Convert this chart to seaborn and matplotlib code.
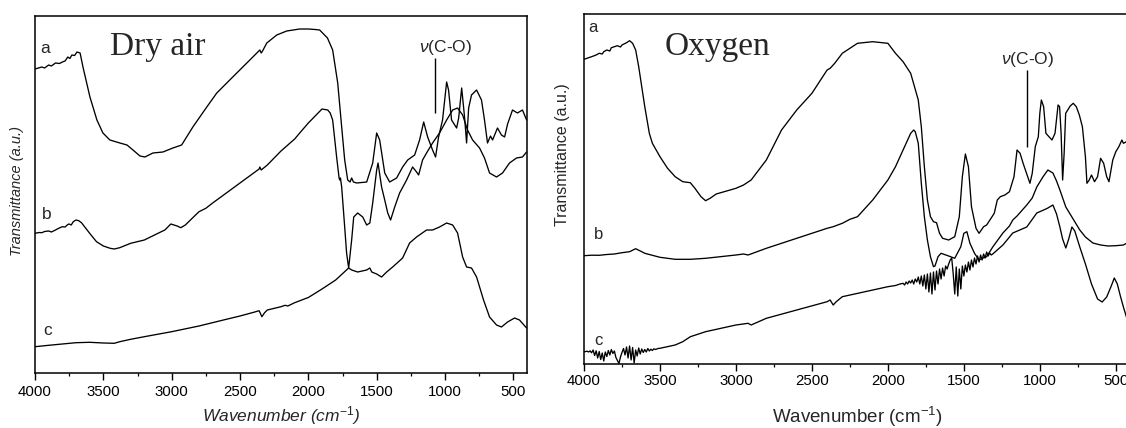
import numpy as np
import pandas as pd
import matplotlib
matplotlib.use("Agg")
import matplotlib.pyplot as plt
from matplotlib.ticker import MultipleLocator
import seaborn as sns

# ---------------- data (transmittance in arbitrary units) ----------------
# Dry air panel
dry_a_wn = [4000, 3950, 3930, 3900, 3880, 3850, 3820, 3800, 3780, 3760, 3745, 3730, 3710, 3693, 3670,
            3649, 3598, 3547, 3503, 3452, 3379, 3327, 3283, 3232, 3196, 3137, 3064, 2991, 2927, 2845,
            2743, 2670, 2553, 2428, 2355, 2345, 2335, 2304, 2231, 2158, 2063, 2000, 1950, 1917, 1860,
            1822, 1785, 1756, 1734, 1712, 1695, 1683, 1670,
            1646, 1573, 1529, 1500, 1478, 1441, 1405, 1354, 1310, 1273, 1222, 1186, 1156, 1127, 1091,
            1069, 1047, 1018, 988, 974, 952, 915, 900, 878, 857, 842, 827, 806, 769, 733, 711, 689,
            667, 652, 616, 587, 564, 542, 506, 470, 433, 403]
dry_a_T = [304, 306, 305, 308, 307, 310, 309.5, 311, 312, 316, 314.5, 318, 317.5, 321, 320,
           306, 276, 253, 240, 233, 230, 228, 223, 217, 216, 220, 221, 225, 228, 246,
           266, 280, 296, 313, 323, 320, 322, 330, 338, 342, 344, 344, 343.5, 343, 335,
           323, 290, 246, 213, 193, 191, 195, 191,
           190, 191, 210, 240, 233, 200, 191, 195, 206, 213, 218, 233, 251, 236, 223,
           216, 236, 253, 291, 283, 253, 245, 255, 285, 256, 230, 265, 278, 283, 273, 253, 230,
           237, 233, 245, 238, 236, 249, 263, 260, 263, 253]

dry_b_wn = [4000, 3970, 3950, 3930, 3900, 3880, 3850, 3830, 3800, 3780, 3760, 3750, 3735, 3720, 3700,
            3680, 3660, 3600, 3550, 3500, 3450, 3420, 3380, 3300, 3200, 3100, 3050, 3006, 2960, 2933,
            2900, 2850, 2800, 2750, 2700, 2600, 2500, 2400, 2360, 2355, 2345, 2300, 2200, 2100, 2063,
            2000, 1950, 1900, 1858, 1840, 1822, 1793, 1775, 1770, 1765, 1756, 1734, 1720, 1705,
            1683, 1668, 1639, 1602, 1573, 1550, 1529, 1500, 1490,
            1464, 1441, 1419, 1398, 1368, 1332, 1281, 1237, 1208, 1193, 1164, 1135, 1091, 1040, 988,
            944, 908, 871, 835, 798, 747, 711, 674, 623, 579, 528, 477, 433, 403]
dry_b_T = [139.7, 140.5, 140.3, 141.5, 142, 141, 143, 144.5, 146.3, 146, 148.5, 149, 148, 151.3, 153,
           152.3, 150.3, 139.7, 131.3, 127, 124.7, 124, 125.3, 129.7, 133, 139.7, 143, 149, 147, 145.3,
           148, 154.7, 161.3, 164.7, 170, 180, 190, 200, 204, 206, 203, 208, 222, 234, 240,
           250, 257, 264, 263, 260, 253, 216, 195, 193, 195, 186, 146, 120, 105,
           133, 156, 160, 156, 148, 150, 170, 203, 210,
           186, 173, 160, 153, 166, 180, 193, 206, 201, 198, 213, 220, 230, 240, 253,
           263, 265, 258, 243, 233, 225, 215, 200, 196, 200, 210, 215, 216, 221]

dry_c_wn = [4000, 3900, 3800, 3700, 3600, 3500, 3420, 3380, 3300, 3200, 3000, 2800, 2600, 2500, 2400,
            2360, 2340, 2320, 2300, 2200, 2170, 2150, 2100, 2000, 1900, 1800, 1705, 1683, 1639, 1573,
            1550, 1536, 1500, 1464,
            1427, 1383, 1310, 1259, 1208, 1135, 1091, 1040, 988, 944, 908, 871, 842, 806, 769,
            718, 674, 623, 587, 542, 491, 455, 403]
dry_c_T = [26.3, 27.7, 29, 30.3, 30.7, 30, 29.7, 31.3, 33.7, 36.3, 41.3, 47, 53.7, 57, 60.7,
           62.3, 56.3, 60.3, 63, 66.3, 67.7, 67, 70.3, 75.5, 84, 93, 105, 103, 101, 103,
           105, 101, 99, 96,
           101, 106, 115, 130, 136, 143, 143, 146, 150, 148, 140, 116, 106, 105, 96,
           73, 56, 48, 46, 51, 55, 53, 45]

# Oxygen panel
oxy_a_wn = [4000, 3950, 3920, 3900, 3880, 3870, 3850, 3830, 3820, 3800, 3780, 3760, 3750, 3720, 3700,
            3680, 3660, 3640, 3620, 3600, 3570, 3550, 3500, 3450, 3400, 3350, 3300, 3270, 3230, 3200,
            3170, 3130, 3100, 3000, 2950, 2900, 2800, 2700, 2650, 2600, 2500, 2400, 2380, 2350, 2300,
            2200, 2100, 2000, 1950, 1900, 1850, 1800, 1780, 1760, 1740, 1720, 1700, 1680, 1660, 1640,
            1600, 1560, 1530, 1510, 1490, 1470, 1450, 1420, 1400, 1370, 1350, 1300, 1280, 1260, 1230,
            1200, 1170, 1150, 1130, 1110, 1080, 1065, 1050, 1030, 1010, 1000, 990, 975, 960, 940,
            920, 900, 880, 870, 860, 850, 840, 830, 800, 780, 760, 740, 720, 700, 690,
            675, 660, 640, 620, 600, 580, 560, 545, 520, 500, 480, 460, 450, 430, 400]
oxy_a_T = [304.7, 307.3, 309, 310.7, 310, 312.3, 314, 313, 316.3, 317.3, 318.3, 317, 319, 321.3, 323.3,
           320.7, 314, 297.3, 277.3, 257.3, 230.7, 220.7, 207.3, 195.7, 187.3, 182.3, 181.3, 175.7, 167.3, 163.3,
           165.7, 170, 171.3, 175.7, 179, 184, 204, 234, 244, 254, 270.7, 294, 295.7, 300.7, 310.7,
           320.7, 322.3, 320.7, 310.7, 302.3, 290.7, 264, 237.3, 197.3, 164, 147.3, 142.3, 141.3, 130.7, 125.7,
           124, 127.3, 147.3, 187.3, 210, 197.3, 157.3, 135.7, 130.7, 137.3, 139, 150.7, 164, 167.3, 169,
           172.3, 187.3, 214, 210.7, 200.7, 187.3, 180.7, 190.7, 217.3, 227.3, 250.7, 264, 257.3, 230.7, 227.3,
           224, 230.7, 259, 257.3, 230.7, 184, 210.7, 250.7, 258, 260.7, 257.3, 249, 237.3, 207.3, 180.7,
           184, 189, 182.3, 187.3, 205.7, 200.7, 187.3, 182.3, 204, 212.3, 217.3, 224, 220.7, 222.3, 218]

oxy_b_wn = [4000, 3950, 3900, 3850, 3800, 3750, 3700, 3660, 3620, 3600, 3500, 3400, 3300, 3200, 3000,
            2950, 2920, 2800, 2600, 2400, 2360, 2300, 2250, 2200, 2100, 2000, 1950, 1900, 1850, 1830,
            1820, 1800, 1780, 1760, 1740, 1720, 1700, 1690, 1670, 1650, 1600, 1560, 1520, 1500, 1480,
            1460, 1430, 1400, 1380, 1350, 1310, 1243, 1200, 1178, 1150, 1086, 1050, 1020, 980, 947,
            914, 890, 868, 829, 789, 737, 700, 651, 600, 550, 500, 450, 430, 400]
oxy_b_T = [108.3, 108.8, 108.7, 109.5, 110, 111.3, 112.3, 115.3, 112.3, 110.7, 106.7, 104.7, 104.7, 105.7, 109,
           110, 109, 115.7, 125.7, 135.7, 137.3, 140.7, 144.7, 147.3, 164, 184, 197.3, 214, 230.7, 234,
           232.3, 220.7, 180.7, 147.3, 124, 107.3, 97.3, 98, 107.3, 110.7, 108, 105.7, 117.3, 130.7, 132.3,
           120.7, 110.7, 104, 105.7, 107.3, 117, 131, 138, 144, 148, 159, 166, 177, 187, 194,
           191, 183, 174, 157, 147, 134, 127, 121, 119, 118, 118.3, 119, 120.7, 121]

oxy_c_wn = [4000, 3990, 3980, 3970, 3960, 3950, 3940, 3930, 3920, 3910, 3900, 3890, 3880, 3870, 3860,
            3850, 3840, 3830, 3820, 3810, 3800, 3790, 3780, 3770, 3760, 3750, 3740, 3730, 3720, 3710,
            3700, 3690, 3680, 3670, 3660, 3650, 3640, 3630, 3620, 3610, 3600, 3590, 3580, 3570, 3560,
            3550, 3540, 3530, 3520, 3510, 3500, 3400, 3350, 3300, 3200, 3000, 2920, 2900, 2800, 2600,
            2400, 2380, 2360, 2340, 2300, 2200, 2000, 1950, 1920,
            1900, 1890, 1880, 1870, 1860, 1850, 1840, 1830, 1820, 1810, 1800, 1790, 1780, 1770, 1760,
            1750, 1740, 1730, 1720, 1710, 1700, 1690, 1680, 1670, 1660, 1650, 1640, 1630, 1620, 1610,
            1600, 1590, 1580, 1570, 1560, 1550, 1540, 1530, 1520, 1510, 1500, 1490, 1480, 1470, 1460,
            1450, 1440, 1430, 1420, 1410, 1400, 1390, 1380, 1370, 1360, 1350, 1340, 1330, 1320, 1310,
            1243, 1178, 1086, 1020, 960, 947, 914, 890, 868, 850, 829, 810, 789, 770, 737,
            700, 660, 620, 590, 560, 530, 510, 490, 470, 450, 430, 400]
oxy_c_T = [12.3, 12.4, 12.8, 12.0, 13.1, 11.2, 14.0, 8.5, 13.2, 6.0, 12.5, 4.5, 11.0, 3.0, 12.0,
           7.5, 13.5, 9.0, 14.5, 10.5, 13.0, 6.5, 3.5, 0.5, 7.0, 11.5, 15.5, 9.0, 17.0, 6.0,
           18.0, 4.0, 16.5, 1.0, 14.0, 8.0, 16.0, 10.0, 15.0, 11.5, 14.5, 12.0, 15.5, 13.0, 14.8,
           13.5, 15.2, 14.5, 15.0, 15.6, 15.7, 19, 22.3, 27.3, 32.3, 39, 40.7, 39, 45.7, 54,
           62.3, 64, 59, 62.3, 67.3, 70.7, 77.3, 78.5, 80,
           80.7, 79, 82, 80, 83, 81, 84, 80, 85, 82, 87, 80, 88, 78, 89,
           75, 90, 72, 91, 70, 92, 74, 93, 80, 95, 85, 96, 88, 98, 95,
           100, 104, 106, 90, 70, 97, 68, 95, 75, 98, 88, 99, 92, 102, 94,
           104, 97, 106, 100, 108, 102, 109, 104, 110, 106, 112, 108, 111, 109, 110,
           119, 131, 137, 151, 155, 156, 159, 150, 137, 125, 116, 125, 137, 133, 117,
           100, 80, 65, 62, 67, 78, 86, 80, 68, 57, 47, 38]

curve_names = ["a", "b", "c"]
xticks = [4000, 3500, 3000, 2500, 2000, 1500, 1000, 500]
panel_titles = ["Dry air", "Oxygen"]
co_band = [1076, 1086]  # position of the nu(C-O) marker, cm-1


def frame(wns, ts):
    parts = []
    for name, w, t in zip(curve_names, wns, ts):
        parts.append(pd.DataFrame({"wn": w, "T": t, "curve": name}))
    return pd.concat(parts, ignore_index=True)


df_dry = frame([dry_a_wn, dry_b_wn, dry_c_wn], [dry_a_T, dry_b_T, dry_c_T])
df_oxy = frame([oxy_a_wn, oxy_b_wn, oxy_c_wn], [oxy_a_T, oxy_b_T, oxy_c_T])

# ---------------- style ----------------
sns.set_theme(style="white")
plt.rcParams["font.family"] = ["Liberation Sans", "DejaVu Sans"]
plt.rcParams["mathtext.fontset"] = "custom"
plt.rcParams["mathtext.rm"] = "Liberation Sans"
plt.rcParams["mathtext.it"] = "Liberation Sans:italic"

W, H = 1126, 428
fig = plt.figure(figsize=(W / 100, H / 100), dpi=100)
fig.patch.set_facecolor("white")

axL = fig.add_axes([35 / W, (H - 373) / H, 492 / W, 357 / H])
axR = fig.add_axes([584 / W, (H - 364) / H, 547 / W, 350 / H])

for ax, df, ymax in [(axL, df_dry, 357), (axR, df_oxy, 350)]:
    sns.lineplot(data=df, x="wn", y="T", units="curve", estimator=None,
                 color="black", linewidth=0.95, ax=ax, legend=False)
    ax.set_xlim(4000, 400)
    ax.set_ylim(0, ymax)
    ax.set_yticks([])
    ax.set_xticks(xticks)
    ax.xaxis.set_minor_locator(MultipleLocator(250))
    ax.tick_params(axis="x", which="major", bottom=True, direction="out", length=5,
                   width=1.0, color="black", labelsize=10.8, labelcolor="black")
    ax.tick_params(axis="x", which="minor", bottom=True, direction="out", length=2.5,
                   width=0.9, color="black")
    ax.set_xlabel("")
    ax.set_ylabel("")
    for s in ax.spines.values():
        s.set_color("black")
        s.set_linewidth(1.1)
    ax.set_facecolor("white")

axL.tick_params(axis="x", which="major", pad=4)
axR.tick_params(axis="x", which="major", pad=2)

# curve letters
for txt, (x, y) in zip(curve_names, [(0.02, 0.91), (0.024, 0.443), (0.026, 0.12)]):
    axL.text(x, y, txt, transform=axL.transAxes, ha="center", va="center", fontsize=12.5)
for txt, (x, y) in zip(curve_names, [(0.0165, 0.96), (0.026, 0.371), (0.026, 0.066)]):
    axR.text(x, y, txt, transform=axR.transAxes, ha="center", va="center", fontsize=12)

# panel titles
axL.text(0.152, 0.913, panel_titles[0], transform=axL.transAxes, ha="left", va="center",
         fontsize=24, family="Liberation Serif")
axR.text(0.1465, 0.906, panel_titles[1], transform=axR.transAxes, ha="left", va="center",
         fontsize=24, family="Liberation Serif")

# nu(C-O) markers
axL.text(0.835, 0.913, r"$\nu$(C-O)", transform=axL.transAxes, ha="center", va="center", fontsize=12.5)
axL.vlines(co_band[0], 260, 315, color="black", linewidth=1.0)
axR.text(0.81, 0.869, r"$\nu$(C-O)", transform=axR.transAxes, ha="center", va="center", fontsize=12.5)
axR.vlines(co_band[1], 217, 294, color="black", linewidth=1.0)

# axis labels
fig.text(281 / W, 1 - 416 / H, r"Wavenumber (cm$^{-1}$)", ha="center", va="center",
         fontsize=12.5, style="italic")
fig.text(857 / W, 1 - 417 / H, r"Wavenumber (cm$^{-1}$)", ha="center", va="center",
         fontsize=13.5)
fig.text(17 / W, 1 - 191 / H, "Transmittance (a.u.)", ha="center", va="center",
         rotation=90, fontsize=10.5, style="italic")
fig.text(562 / W, 1 - 155 / H, "Transmittance (a.u.)", ha="center", va="center",
         rotation=90, fontsize=11.5)

fig.savefig("out.png", dpi=100, facecolor="white")
